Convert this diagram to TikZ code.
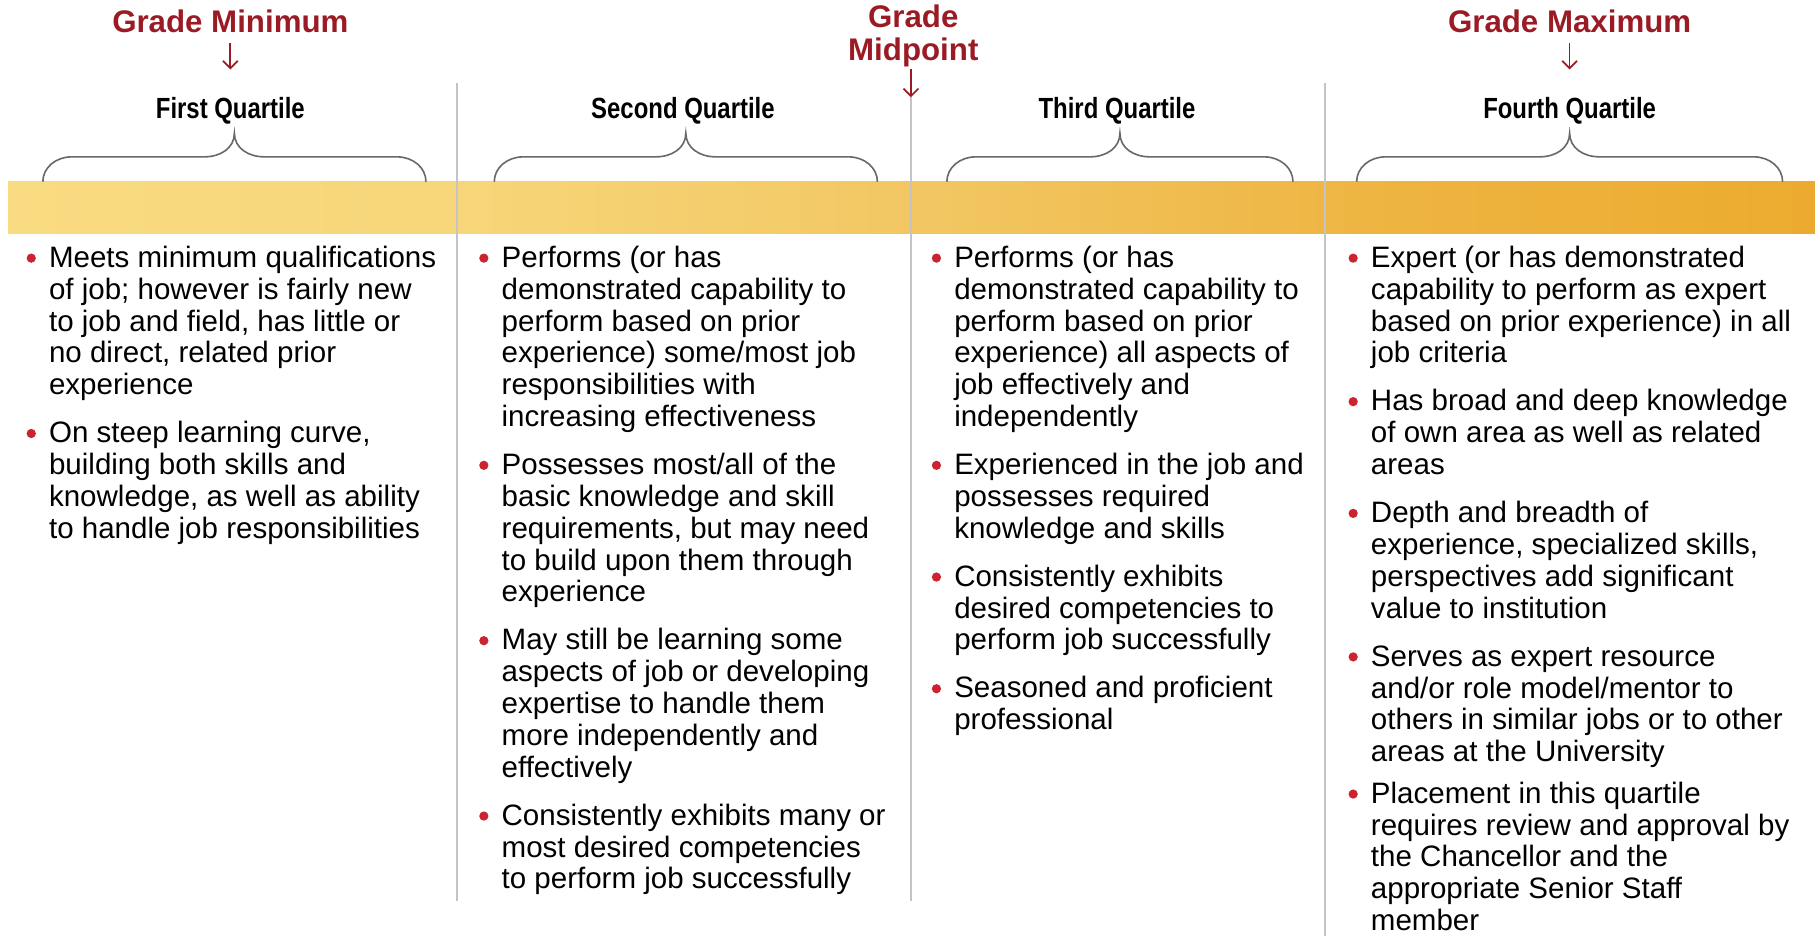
\documentclass[tikz,border=0pt]{standalone}
\usepackage{fontspec}
\setmainfont{Liberation Sans}
\newfontfamily\narrowfont{Liberation Sans}[FakeStretch=0.82]
\usetikzlibrary{arrows.meta}

\definecolor{gradered}{RGB}{155,27,36}
\definecolor{bulletred}{RGB}{204,35,48}
\definecolor{bracegray}{RGB}{105,105,105}
\definecolor{divgray}{RGB}{196,196,196}
\definecolor{barA}{RGB}{249,219,129}
\definecolor{barB}{RGB}{247,214,121}
\definecolor{barC}{RGB}{242,199,99}
\definecolor{barD}{RGB}{238,181,66}
\definecolor{barE}{RGB}{236,171,47}

% warm gradient band; the path is mapped onto 25bp..75bp
\pgfdeclarehorizontalshading{bandshade}{100bp}{%
  color(0bp)=(barA); color(25bp)=(barA); color(37.5bp)=(barB);
  color(50bp)=(barC); color(62.5bp)=(barD); color(75bp)=(barE);
  color(100bp)=(barE)}

% bullet entry: #1 name, #2 x of text, #3 baseline of first line, #4 lines
\newcommand\quartileitem[4]{%
  \node[bulletdot] (#1dot) at (#2-15,#3-8) {};
  \node[bodytext] (#1) at (#2,#3) {\begin{tabular}[t]{@{}l@{}}#4\end{tabular}};}

% curly brace over one quartile: #1 left x, #2 right x
\newcommand\quartilebrace[2]{%
  \draw[bracestroke]
    (#1,157) .. controls (#1,145) and (#1+11,135.5) .. (#1+25,135.5)
    -- ({(#1+#2)/2-26},135.5)
    .. controls ({(#1+#2)/2-12},135.5) and ({(#1+#2)/2},128) .. ({(#1+#2)/2},115)
    .. controls ({(#1+#2)/2},128) and ({(#1+#2)/2+12},135.5) .. ({(#1+#2)/2+26},135.5)
    -- (#2-25,135.5)
    .. controls (#2-11,135.5) and (#2,145) .. (#2,157);}

\begin{document}
\begin{tikzpicture}[x=0.5pt,y=-0.5pt,
  bodytext/.style={anchor=base west,inner sep=0pt,
    font=\fontsize{12.75pt}{13.75pt}\selectfont},
  bulletdot/.style={circle,fill=bulletred,inner sep=0pt,minimum size=4pt},
  quartilehead/.style={inner sep=0pt,font=\narrowfont\bfseries\fontsize{12.6pt}{14pt}\selectfont},
  gradelabel/.style={inner sep=0pt,align=center,text=gradered,
    font=\bfseries\fontsize{13.5pt}{14.5pt}\selectfont},
  gradearrow/.style={draw=gradered,line width=0.75pt,
    -{Straight Barb[length=3.2pt,width=6.4pt,line width=0.75pt]}},
  divider/.style={draw=divgray,line width=0.8pt},
  bracestroke/.style={draw=bracegray,line width=0.7pt}]

\useasboundingbox (0,0) rectangle (1568,809);

% gradient band
\shade[shading=bandshade] (7,157) rectangle (1568,202);

% column dividers
\coordinate (d1top) at (395,72);   \coordinate (d1bot) at (395,778);
\coordinate (d2top) at (787,84);   \coordinate (d2bot) at (787,778);
\coordinate (d3top) at (1145,72);  \coordinate (d3bot) at (1145,809);
\draw[divider] (d1top) -- (d1bot);
\draw[divider] (d2top) -- (d2bot);
\draw[divider] (d3top) -- (d3bot);

% braces
\quartilebrace{37}{368}
\quartilebrace{427}{758}
\quartilebrace{818}{1117}
\quartilebrace{1172}{1540}

% quartile headings
\node[quartilehead] (q1) at (199,96) {First Quartile};
\node[quartilehead] (q2) at (590,96) {Second Quartile};
\node[quartilehead] (q3) at (965,96) {Third Quartile};
\node[quartilehead] (q4) at (1356,96) {Fourth Quartile};

% grade markers
\node[gradelabel] (gmin) at (199,18) {Grade Minimum};
\node[gradelabel] (gmid) at (789,31) {Grade\\[-0.5pt]Midpoint};
\node[gradelabel] (gmax) at (1356,18) {Grade Maximum};
\coordinate (gminTip) at (199,60);
\coordinate (gmaxTip) at (1356,60);
\draw[gradearrow,shorten <=4.5pt] (gmin.south) -- (gminTip);
\draw[gradearrow,shorten <=1pt] (gmid.south -| d2top) -- (d2top);
\draw[gradearrow,shorten <=4.5pt] (gmax.south) -- (gmaxTip);

% first quartile
\quartileitem{a1}{42}{231}{Meets minimum qualifications\\of job; however is fairly new\\to job and field, has little or\\no direct, related prior\\experience}
\quartileitem{a2}{42}{382.5}{On steep learning curve,\\building both skills and\\knowledge, as well as ability\\to handle job responsibilities}

% second quartile
\quartileitem{b1}{433}{231}{Performs (or has\\demonstrated capability to\\perform based on prior\\experience) some/most job\\responsibilities with\\increasing effectiveness}
\quartileitem{b2}{433}{410}{Possesses most/all of the\\basic knowledge and skill\\requirements, but may need\\to build upon them through\\experience}
\quartileitem{b3}{433}{561.5}{May still be learning some\\aspects of job or developing\\expertise to handle them\\more independently and\\effectively}
\quartileitem{b4}{433}{713}{Consistently exhibits many or\\most desired competencies\\to perform job successfully}

% third quartile
\quartileitem{c1}{824}{231}{Performs (or has\\demonstrated capability to\\perform based on prior\\experience) all aspects of\\job effectively and\\independently}
\quartileitem{c2}{824}{410}{Experienced in the job and\\possesses required\\knowledge and skills}
\quartileitem{c3}{824}{506.5}{Consistently exhibits\\desired competencies to\\perform job successfully}
\quartileitem{c4}{824}{603}{Seasoned and proficient\\professional}

% fourth quartile
\quartileitem{e1}{1184}{231}{Expert (or has demonstrated\\capability to perform as expert\\based on prior experience) in all\\job criteria}
\quartileitem{e2}{1184}{355}{Has broad and deep knowledge\\of own area as well as related\\areas}
\quartileitem{e3}{1184}{451.5}{Depth and breadth of\\experience, specialized skills,\\perspectives add significant\\value to institution}
\quartileitem{e4}{1184}{575.5}{Serves as expert resource\\and/or role model/mentor to\\others in similar jobs or to other\\areas at the University}
\quartileitem{e5}{1184}{694}{Placement in this quartile\\requires review and approval by\\the Chancellor and the\\appropriate Senior Staff\\member}

\end{tikzpicture}
\end{document}
